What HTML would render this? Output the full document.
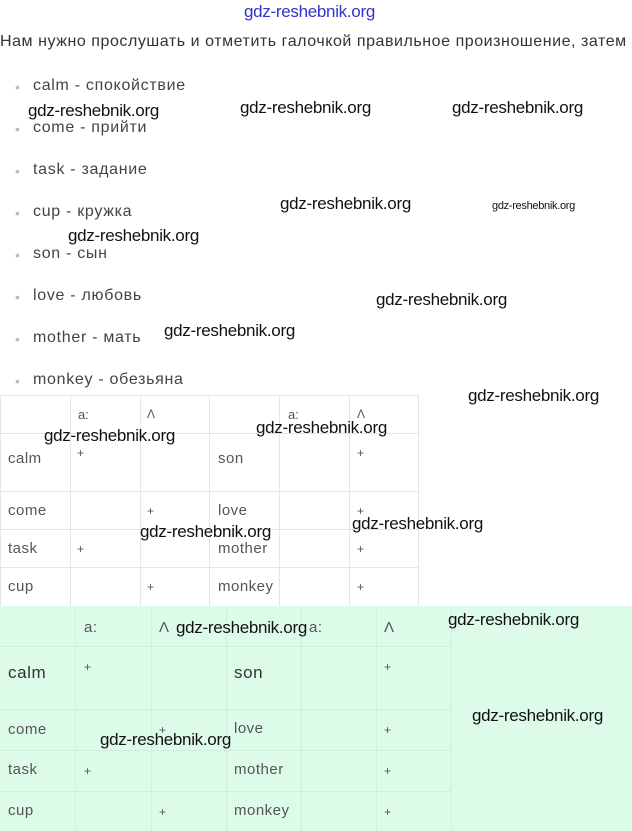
<!DOCTYPE html><html><head><meta charset="utf-8"><style>
body{margin:0;width:632px;height:831px;background:#fff;position:relative;overflow:hidden;font-family:"Liberation Sans",sans-serif;}
.a{position:absolute;white-space:nowrap}
.t{color:#444;font-size:16px;letter-spacing:0.7px}
.w{color:#111;font-size:17px;letter-spacing:-0.3px}
.b{color:#bbb;font-size:14px}
.l{position:absolute;background:#e6e6e6}
.g{position:absolute;background:#cfeedd}
.s{color:#555;font-size:15px;letter-spacing:0.5px}
.p{color:#555;font-size:12px}
</style></head><body>
<div class="a" style="left:244px;top:2px;color:#3333cc;font-size:17px;letter-spacing:-0.3px">gdz-reshebnik.org</div>
<div class="a" style="left:0;top:33px;color:#333;font-size:16px;letter-spacing:0.55px">Нам нужно прослушать и отметить галочкой правильное произношение, затем</div>
<div class="a b" style="left:15px;top:79px">•</div><div class="a t" style="left:33px;top:77px">calm - спокойствие</div>
<div class="a b" style="left:15px;top:121px">•</div><div class="a t" style="left:33px;top:119px">come - прийти</div>
<div class="a b" style="left:15px;top:163px">•</div><div class="a t" style="left:33px;top:161px">task - задание</div>
<div class="a b" style="left:15px;top:205px">•</div><div class="a t" style="left:33px;top:203px">cup - кружка</div>
<div class="a b" style="left:15px;top:247px">•</div><div class="a t" style="left:33px;top:245px">son - сын</div>
<div class="a b" style="left:15px;top:289px">•</div><div class="a t" style="left:33px;top:287px">love - любовь</div>
<div class="a b" style="left:15px;top:331px">•</div><div class="a t" style="left:33px;top:329px">mother - мать</div>
<div class="a b" style="left:15px;top:373px">•</div><div class="a t" style="left:33px;top:371px">monkey - обезьяна</div>

<div class="l" style="left:0;top:395px;width:419px;height:1px"></div>
<div class="l" style="left:0;top:433px;width:419px;height:1px"></div>
<div class="l" style="left:0;top:491px;width:419px;height:1px"></div>
<div class="l" style="left:0;top:529px;width:419px;height:1px"></div>
<div class="l" style="left:0;top:567px;width:419px;height:1px"></div>
<div class="l" style="left:0;top:395px;width:1px;height:211px"></div>
<div class="l" style="left:70px;top:395px;width:1px;height:211px"></div>
<div class="l" style="left:140px;top:395px;width:1px;height:211px"></div>
<div class="l" style="left:209px;top:395px;width:1px;height:211px"></div>
<div class="l" style="left:279px;top:395px;width:1px;height:211px"></div>
<div class="l" style="left:349px;top:395px;width:1px;height:211px"></div>
<div class="l" style="left:418px;top:395px;width:1px;height:211px"></div>
<div class="a p" style="left:78px;top:407px;font-size:13px">a:</div><div class="a p" style="left:147px;top:407px">Λ</div>
<div class="a p" style="left:288px;top:407px;font-size:13px">a:</div><div class="a p" style="left:357px;top:407px">Λ</div>
<div class="a s" style="left:8px;top:450px">calm</div><div class="a p" style="left:77px;top:446px">+</div>
<div class="a s" style="left:218px;top:450px">son</div><div class="a p" style="left:357px;top:446px">+</div>
<div class="a s" style="left:8px;top:502px">come</div><div class="a p" style="left:147px;top:504px">+</div>
<div class="a s" style="left:218px;top:502px">love</div><div class="a p" style="left:357px;top:504px">+</div>
<div class="a s" style="left:8px;top:540px">task</div><div class="a p" style="left:77px;top:542px">+</div>
<div class="a s" style="left:218px;top:540px">mother</div><div class="a p" style="left:357px;top:542px">+</div>
<div class="a s" style="left:8px;top:578px">cup</div><div class="a p" style="left:147px;top:580px">+</div>
<div class="a s" style="left:218px;top:578px">monkey</div><div class="a p" style="left:357px;top:580px">+</div>

<div style="position:absolute;left:0;top:606px;width:632px;height:225px;background:#dcfbe8"></div>
<div class="g" style="left:0;top:646px;width:451px;height:1px"></div>
<div class="g" style="left:0;top:709px;width:451px;height:1px"></div>
<div class="g" style="left:0;top:750px;width:451px;height:1px"></div>
<div class="g" style="left:0;top:791px;width:451px;height:1px"></div>
<div class="g" style="left:75px;top:606px;width:1px;height:225px"></div>
<div class="g" style="left:151px;top:606px;width:1px;height:225px"></div>
<div class="g" style="left:226px;top:606px;width:1px;height:225px"></div>
<div class="g" style="left:301px;top:606px;width:1px;height:225px"></div>
<div class="g" style="left:376px;top:606px;width:1px;height:225px"></div>
<div class="g" style="left:451px;top:606px;width:1px;height:225px"></div>
<div class="a s" style="left:84px;top:619px">a:</div><div class="a s" style="left:159px;top:619px">Λ</div>
<div class="a s" style="left:309px;top:619px">a:</div><div class="a s" style="left:384px;top:619px">Λ</div>
<div class="a" style="left:8px;top:663px;color:#333;font-size:17px;letter-spacing:0.6px">calm</div><div class="a p" style="left:84px;top:660px">+</div>
<div class="a" style="left:234px;top:663px;color:#333;font-size:17px;letter-spacing:0.6px">son</div><div class="a p" style="left:384px;top:660px">+</div>
<div class="a s" style="left:8px;top:721px">come</div><div class="a p" style="left:159px;top:723px">+</div>
<div class="a s" style="left:234px;top:720px">love</div><div class="a p" style="left:384px;top:723px">+</div>
<div class="a s" style="left:8px;top:761px">task</div><div class="a p" style="left:84px;top:764px">+</div>
<div class="a s" style="left:234px;top:761px">mother</div><div class="a p" style="left:384px;top:764px">+</div>
<div class="a s" style="left:8px;top:802px">cup</div><div class="a p" style="left:159px;top:805px">+</div>
<div class="a s" style="left:234px;top:802px">monkey</div><div class="a p" style="left:384px;top:805px">+</div>

<div class="a w" style="left:28px;top:101px">gdz-reshebnik.org</div>
<div class="a w" style="left:240px;top:98px">gdz-reshebnik.org</div>
<div class="a w" style="left:452px;top:98px">gdz-reshebnik.org</div>
<div class="a w" style="left:280px;top:194px">gdz-reshebnik.org</div>
<div class="a w" style="left:492px;top:200px;font-size:11px">gdz-reshebnik.org</div>
<div class="a w" style="left:68px;top:226px">gdz-reshebnik.org</div>
<div class="a w" style="left:376px;top:290px">gdz-reshebnik.org</div>
<div class="a w" style="left:164px;top:321px">gdz-reshebnik.org</div>
<div class="a w" style="left:468px;top:386px">gdz-reshebnik.org</div>
<div class="a w" style="left:44px;top:426px">gdz-reshebnik.org</div>
<div class="a w" style="left:256px;top:418px">gdz-reshebnik.org</div>
<div class="a w" style="left:140px;top:522px">gdz-reshebnik.org</div>
<div class="a w" style="left:352px;top:514px">gdz-reshebnik.org</div>
<div class="a w" style="left:176px;top:618px">gdz-reshebnik.org</div>
<div class="a w" style="left:448px;top:610px">gdz-reshebnik.org</div>
<div class="a w" style="left:472px;top:706px">gdz-reshebnik.org</div>
<div class="a w" style="left:100px;top:730px">gdz-reshebnik.org</div>
</body></html>
